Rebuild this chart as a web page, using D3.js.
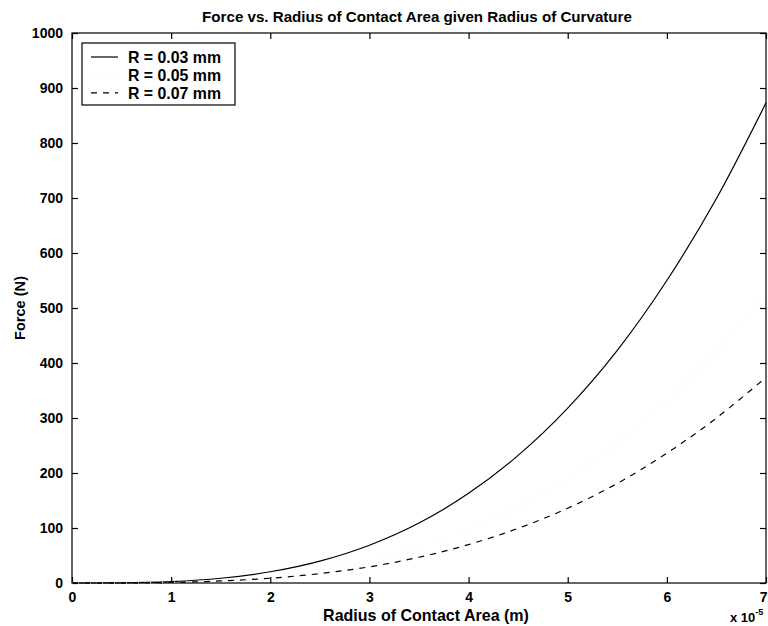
<!DOCTYPE html>
<html>
<head>
<meta charset="utf-8">
<script src="https://cdn.jsdelivr.net/npm/d3@7"></script>
<style>
  html, body { margin: 0; padding: 0; background: #fff; }
  svg { display: block; font-family: "Liberation Sans", Arial, sans-serif; }
</style>
</head>
<body>
<svg id="chart" width="768" height="626"></svg>
<script>
// ---- data (radius in units of 1e-5 m, force in N) ----
const radius   = [0, 0.5, 1, 1.5, 2, 2.5, 3, 3.5, 4, 4.5, 5, 5.5, 6, 6.5, 7];
const force003 = [0, 0.3, 2.5, 8.6, 20.4, 39.8, 68.7, 109, 163, 232, 318, 423, 550, 699, 873];
const force005 = [0, 0.2, 1.5, 5.2, 12.2, 23.9, 41.2, 65.5, 97.7, 139, 191, 254, 330, 419, 524];
const force007 = [0, 0.1, 1.1, 3.7, 8.7, 17.1, 29.4, 46.8, 69.8, 99.4, 136, 181, 236, 300, 374];
const seriesNames = ["R = 0.03 mm", "R = 0.05 mm", "R = 0.07 mm"];
const xTicks = [0, 1, 2, 3, 4, 5, 6, 7];
const yTicks = [0, 100, 200, 300, 400, 500, 600, 700, 800, 900, 1000];

const svg = d3.select("#chart");
const L = 72, R = 766, T = 33, B = 583;
const x = d3.scaleLinear().domain([0, 7]).range([L, R]);
const y = d3.scaleLinear().domain([0, 1000]).range([B, T]);

const series = [
  { name: seriesNames[0], values: force003, dash: null, color: "#000" },
  { name: seriesNames[1], values: force005, dash: "1,5", color: "#f3f3f3" },
  { name: seriesNames[2], values: force007, dash: "6,6", color: "#000" }
];

function fit(sel, target) {
  const w = sel.node().getComputedTextLength();
  const fs = +sel.attr("font-size");
  sel.attr("font-size", (fs * target / w).toFixed(2));
  return sel;
}

// axes box
svg.append("rect").attr("x", L).attr("y", T).attr("width", R - L).attr("height", B - T)
  .attr("fill", "none").attr("stroke", "#000").attr("stroke-width", 1.2);

const tickLen = 6;
const xb = svg.append("g").attr("transform", `translate(0,${B})`)
  .call(d3.axisBottom(x).tickValues(xTicks).tickSizeInner(-tickLen).tickSizeOuter(0).tickPadding(9).tickFormat(d3.format("d")));
const xt = svg.append("g").attr("transform", `translate(0,${T})`)
  .call(d3.axisTop(x).tickValues(xTicks).tickSizeInner(-tickLen).tickSizeOuter(0).tickFormat(""));
const yl = svg.append("g").attr("transform", `translate(${L},0)`)
  .call(d3.axisLeft(y).tickValues(yTicks).tickSizeInner(-tickLen).tickSizeOuter(0).tickPadding(9).tickFormat(d3.format("d")));
const yr = svg.append("g").attr("transform", `translate(${R},0)`)
  .call(d3.axisRight(y).tickValues(yTicks).tickSizeInner(-tickLen).tickSizeOuter(0).tickFormat(""));

[xb, xt, yl, yr].forEach(g => {
  g.select(".domain").remove();
  g.selectAll("line").attr("stroke", "#000").attr("stroke-width", 1.2);
  g.selectAll("text").attr("font-size", 14).attr("fill", "#000")
    .attr("font-family", "'Liberation Sans', Arial, sans-serif").attr("font-weight", "bold");
});
// keep the last x tick label inside the picture
xb.selectAll(".tick text").filter(d => d === 7).attr("text-anchor", "end").attr("x", 1);

// curves
const line = d3.line().x((d, i) => x(radius[i])).y(d => y(d)).curve(d3.curveMonotoneX);
series.forEach(s => {
  svg.append("path").datum(s.values)
    .attr("d", line)
    .attr("fill", "none")
    .attr("stroke", s.color)
    .attr("stroke-width", 1.2)
    .attr("stroke-dasharray", s.dash);
});

// title
fit(svg.append("text").attr("x", 417).attr("y", 22).attr("text-anchor", "middle")
  .attr("font-size", 14).attr("font-weight", "bold")
  .text("Force vs. Radius of Contact Area given Radius of Curvature"), 430);
// x label
fit(svg.append("text").attr("x", 426).attr("y", 621).attr("text-anchor", "middle")
  .attr("font-size", 14).attr("font-weight", "bold").text("Radius of Contact Area (m)"), 206);
// y label
fit(svg.append("text").attr("transform", `translate(25,${(T + B) / 2}) rotate(-90)`)
  .attr("text-anchor", "middle").attr("font-size", 14).attr("font-weight", "bold").text("Force (N)"), 64);
// exponent
const ex = svg.append("text").attr("x", 730).attr("y", 622).attr("font-size", 13).attr("font-weight", "bold");
ex.append("tspan").text("x 10");
ex.append("tspan").attr("dy", -7).attr("font-size", 9).text("-5");

// legend
const lg = svg.append("g");
lg.append("rect").attr("x", 82).attr("y", 43).attr("width", 153).attr("height", 62)
  .attr("fill", "#fff").attr("stroke", "#000").attr("stroke-width", 1.2);
series.forEach((s, i) => {
  const base = 63 + i * 17.9;
  lg.append("line").attr("x1", 91).attr("x2", 118).attr("y1", base - 6).attr("y2", base - 6)
    .attr("stroke", s.color).attr("stroke-width", 1.2).attr("stroke-dasharray", s.dash);
  fit(lg.append("text").attr("x", 128).attr("y", base).attr("font-size", 16).attr("font-weight", "bold").text(s.name), 93);
});
</script>
</body>
</html>
